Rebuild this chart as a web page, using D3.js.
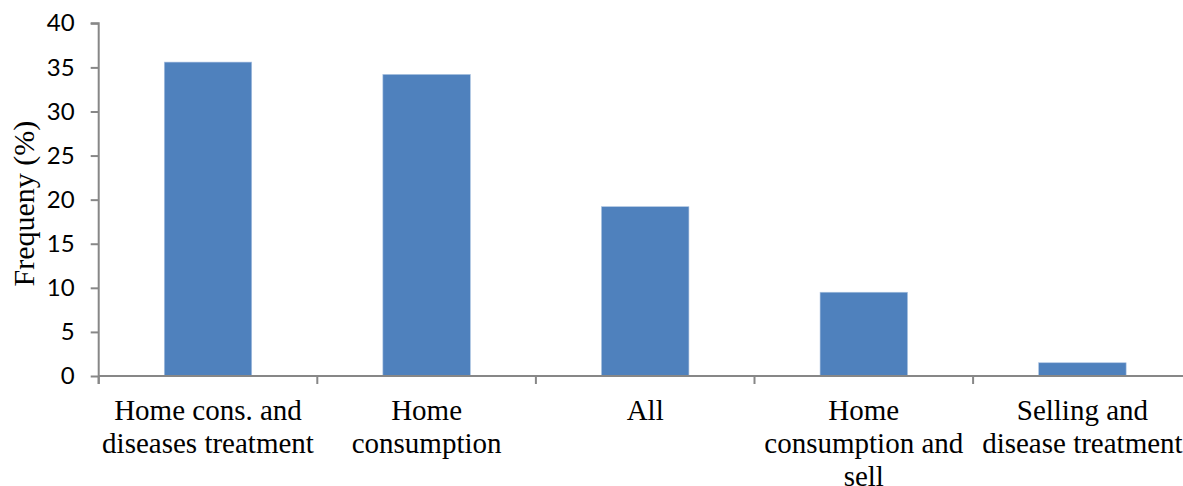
<!DOCTYPE html>
<html>
<head>
<meta charset="utf-8">
<script src="https://cdn.jsdelivr.net/npm/d3@7"></script>
<style>
  html, body { margin: 0; padding: 0; background: #fff; }
  svg { display: block; }
</style>
</head>
<body>
<svg id="chart" width="1183" height="486"></svg>
<script>
// Uses of the plant and their share of respondents
const categories = [
  "Home cons. and diseases treatment",
  "Home consumption",
  "All",
  "Home consumption and sell",
  "Selling and disease treatment"
];
const frequency = [35.6, 34.2, 19.2, 9.5, 1.5];
const yTicks = [0, 5, 10, 15, 20, 25, 30, 35, 40];
const yTitle = "Frequeny (%)";

const svg = d3.select("#chart");
const axisColor = "#878787";
const barColor = "#4f81bd";

const plotLeft = 98.7, plotRight = 1191.7, plotTop = 23.3, plotBottom = 376;

const x = d3.scaleBand()
  .domain(categories)
  .range([plotLeft, plotRight])
  .paddingInner(0.6)
  .paddingOuter(0.3);

const y = d3.scaleLinear().domain([0, 40]).range([plotBottom, plotTop]);

// Bars
svg.append("g")
  .selectAll("rect")
  .data(categories)
  .join("rect")
  .attr("x", d => x(d))
  .attr("width", x.bandwidth())
  .attr("y", (d, i) => y(frequency[i]))
  .attr("height", (d, i) => y(0) - y(frequency[i]))
  .attr("fill", barColor)
  .attr("stroke", "#a9c1e0")
  .attr("stroke-width", 0.6);

// Y axis
const yAxis = svg.append("g")
  .attr("transform", `translate(${plotLeft},0)`)
  .call(d3.axisLeft(y).tickValues(yTicks).tickSize(8).tickPadding(16).tickFormat(d3.format("d")));
yAxis.select(".domain").attr("stroke", axisColor).attr("stroke-width", 2)
  .attr("d", `M-8,${plotTop}H0V${plotBottom + 8}`);
yAxis.selectAll(".tick line").attr("stroke", axisColor).attr("stroke-width", 2);
yAxis.selectAll(".tick text")
  .attr("fill", "#000")
  .style("font-family", "Lato, 'Liberation Sans', sans-serif")
  .style("font-size", "24px");

// X axis line with ticks at category boundaries
const step = x.step();
const boundaries = categories.map(d => x(d) - step * 0.3).concat([plotRight]);
svg.append("line")
  .attr("x1", plotLeft).attr("x2", plotRight)
  .attr("y1", y(0)).attr("y2", y(0))
  .attr("stroke", axisColor).attr("stroke-width", 2);
svg.append("g")
  .selectAll("line")
  .data(boundaries)
  .join("line")
  .attr("x1", d => d).attr("x2", d => d)
  .attr("y1", y(0)).attr("y2", y(0) + 8)
  .attr("stroke", axisColor).attr("stroke-width", 2);

// Category labels, wrapped to the category width
const labelFont = "'Liberation Serif', 'Times New Roman', serif";
const labelSize = 29;
const lineHeight = 33;
const ctx = document.createElement("canvas").getContext("2d");
ctx.font = `${labelSize}px ${labelFont}`;
function wrap(text, width) {
  const words = text.split(" ");
  const lines = [];
  let line = "";
  words.forEach(w => {
    const test = line ? line + " " + w : w;
    if (line && ctx.measureText(test).width > width) {
      lines.push(line);
      line = w;
    } else {
      line = test;
    }
  });
  if (line) lines.push(line);
  return lines;
}

const labels = svg.append("g")
  .selectAll("text")
  .data(categories)
  .join("text")
  .attr("x", d => x(d) + x.bandwidth() / 2)
  .attr("y", y(0) + 44)
  .attr("text-anchor", "middle")
  .style("font-family", labelFont)
  .style("font-size", labelSize + "px")
  .attr("fill", "#000");
labels.each(function (d) {
  const lines = wrap(d, step);
  d3.select(this).selectAll("tspan")
    .data(lines)
    .join("tspan")
    .attr("x", x(d) + x.bandwidth() / 2)
    .attr("dy", (l, i) => i === 0 ? 0 : lineHeight)
    .text(l => l);
});

// Y axis title
svg.append("text")
  .attr("transform", `translate(33.5,${(plotTop + plotBottom) / 2 + 4}) rotate(-90)`)
  .attr("text-anchor", "middle")
  .style("font-family", labelFont)
  .style("font-size", "30px")
  .attr("fill", "#000")
  .text(yTitle);
</script>
</body>
</html>
